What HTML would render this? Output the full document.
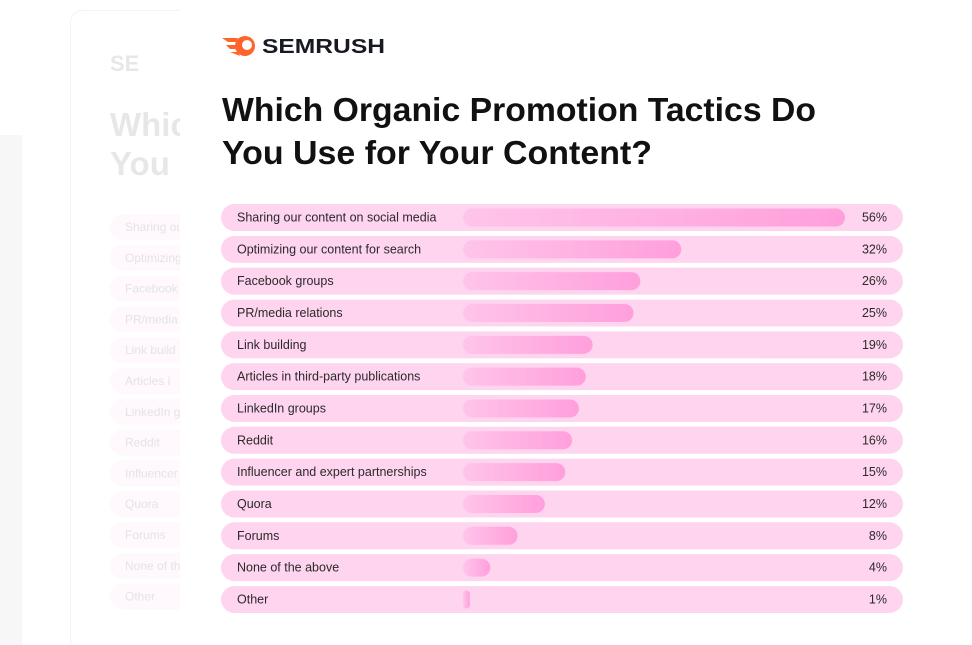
<!DOCTYPE html>
<html><head><meta charset="utf-8"><style>
html,body{margin:0;padding:0;background:#fff;}
svg{display:block;font-family:"Liberation Sans",sans-serif;}
</style></head><body>
<svg width="972" height="645" viewBox="0 0 972 645">
<defs>
<linearGradient id="bg" x1="0" x2="1" y1="0" y2="0"><stop offset="0" stop-color="#ffc4ea"/><stop offset="1" stop-color="#ff9fdc"/></linearGradient>
</defs>
<rect x="0" y="135" width="22" height="510" fill="#f7f7f7"/>
<rect x="70.5" y="10.5" width="140" height="640" rx="12" fill="#fff" stroke="#f3f3f3"/>
<g opacity="0.1">
<text x="110" y="71" font-size="22" font-weight="bold" fill="#222">SE</text>
<text x="110" y="136" font-size="33" font-weight="bold" fill="#222">Which</text>
<text x="110" y="175" font-size="33" font-weight="bold" fill="#222">You U</text>
</g>
<g id="ghost"></g>
<rect x="180" y="0" width="792" height="645" fill="#fff"/>
<g>
<circle cx="245" cy="46" r="10" fill="#ff642d"/>
<circle cx="247" cy="45" r="5" fill="#fff"/>
<path d="M222 38 L238 38 L236 42 L228 42 Z M226 45 L236 45 L236 49 L230 49 Z M230 52 L238 52 L240 56 Z" fill="#ff642d"/>
<text x="262" y="53" font-size="20" font-weight="bold" fill="#171a22" textLength="123" lengthAdjust="spacingAndGlyphs">SEMRUSH</text>
</g>
<text x="222" y="121" font-size="33" font-weight="bold" fill="#111" textLength="594" lengthAdjust="spacingAndGlyphs">Which Organic Promotion Tactics Do</text>
<text x="222" y="164" font-size="33" font-weight="bold" fill="#111" textLength="430" lengthAdjust="spacingAndGlyphs">You Use for Your Content?</text>
<g id="rows"></g>
</svg>
<script>
const categories = ["Sharing our content on social media","Optimizing our content for search","Facebook groups","PR/media relations","Link building","Articles in third-party publications","LinkedIn groups","Reddit","Influencer and expert partnerships","Quora","Forums","None of the above","Other"];
const values = [56,32,26,25,19,18,17,16,15,12,8,4,1];
const valueLabels = ["56%","32%","26%","25%","19%","18%","17%","16%","15%","12%","8%","4%","1%"];
const NS="http://www.w3.org/2000/svg";
const x0=463, pxPer=382/56, y0=204, step=31.83;
const xs=v=>v*pxPer;
const ys=i=>y0+i*step;
function mk(tag,attrs,parent){const e=document.createElementNS(NS,tag);for(const k in attrs)e.setAttribute(k,attrs[k]);parent.appendChild(e);return e;}
const rows=document.getElementById('rows');
const ghost=document.getElementById('ghost');
categories.forEach((c,i)=>{
  const y=ys(i);
  const g=mk('g',{},rows);
  
  
  const band=mk('rect',{x:221,y:y,width:682,height:27,rx:13.5,fill:'#ffd4ef'},g);
  
  
  const t=mk('text',{x:237,y:y+17.5,'font-size':12.5,fill:'#2a2a2a'},g);t.textContent=c;
  
  
  const w=Math.max(xs(values[i]),6);
  const b=mk('rect',{x:x0,y:y+4.5,width:w,height:18,rx:Math.min(9,w/2),fill:'url(#bg)'},g);
  
  
  const v=mk('text',{x:887,y:y+17.5,'font-size':12.5,fill:'#2a2a2a','text-anchor':'end'},g);v.textContent=valueLabels[i];
  
  
  const gr=mk('rect',{x:110,y:214+i*30.8,width:120,height:26,rx:13,fill:'#fff8fc'},ghost);
  
  
  const gt=mk('text',{x:125,y:231+i*30.8,'font-size':12,fill:'#e4e4e4'},ghost);gt.textContent=c.slice(0,10);
  
  
});
</script>
</body></html>
